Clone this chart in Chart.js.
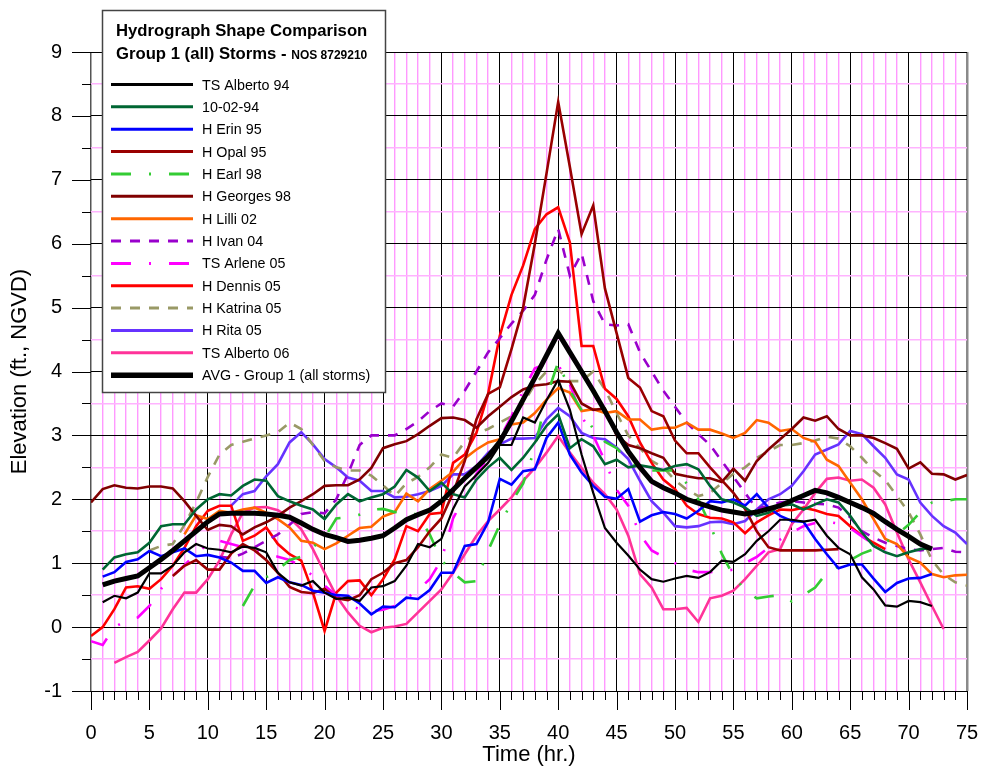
<!DOCTYPE html>
<html><head><meta charset="utf-8">
<script src="https://cdn.jsdelivr.net/npm/chart.js@4.4.1/dist/chart.umd.min.js"></script>
<style>html,body{margin:0;padding:0;background:#fff}canvas{display:block}</style>
</head><body>
<canvas id="c" width="982" height="769"></canvas>
<script>
const FONT = '"Liberation Sans", Arial, Helvetica, sans-serif';

// axis ranges / tick labels
const hoursMin = 0, hoursMax = 75;
const elevMin = -1, elevMax = 9;
const xTickLabels = [0,5,10,15,20,25,30,35,40,45,50,55,60,65,70,75];
const yTickLabels = [-1,0,1,2,3,4,5,6,7,8,9];

const titleLine1 = 'Hydrograph Shape Comparison';
const titleLine2 = 'Group 1 (all) Storms - ';
const titleLine2b = 'NOS 8729210';

// series names and first hour of each series
const seriesNames = ['TS Alberto 94','10-02-94','H Erin 95','H Opal 95','H Earl 98','H Georges 98','H Lilli 02','H Ivan 04','TS Arlene 05','H Dennis 05','H Katrina 05','H Rita 05','TS Alberto 06','AVG - Group 1 (all storms)'];
const seriesStart = [1,1,1,7,13,0,8,11,0,0,5,12,2,1];

// hourly elevations (ft., NGVD)
const alberto94 = [0.39,0.49,0.45,0.54,0.84,0.84,0.96,1.17,1.30,1.23,
 1.21,1.17,1.26,1.24,1.17,0.85,0.70,0.65,0.72,0.54,
 0.44,0.46,0.41,0.62,0.64,0.72,0.96,1.30,1.25,1.38,
 1.85,2.20,2.38,2.57,2.85,2.85,3.28,3.20,3.55,3.87,
 3.40,2.70,2.10,1.55,1.32,1.12,0.90,0.75,0.71,0.76,
 0.80,0.77,0.86,1.04,1.02,1.14,1.35,1.50,1.68,1.68,
 1.65,1.68,1.43,1.24,1.14,0.78,0.59,0.34,0.32,0.41,
 0.39,0.33];
const oct94 = [0.90,1.09,1.14,1.17,1.32,1.58,1.61,1.61,1.84,2.00,
 2.08,2.06,2.21,2.31,2.29,2.05,1.97,1.90,1.84,1.69,
 1.92,2.08,1.97,2.03,2.08,2.20,2.46,2.34,2.13,2.26,
 2.08,2.03,2.31,2.50,2.65,2.46,2.65,2.89,3.15,3.33,
 2.80,2.94,2.83,2.55,2.62,2.50,2.53,2.50,2.46,2.52,
 2.55,2.47,2.21,2.00,1.95,1.87,1.74,1.79,1.90,1.92,
 1.84,1.92,2.00,1.95,1.74,1.48,1.27,1.17,1.11,1.17,
 1.22,1.24];
const erin95 = [0.79,0.86,1.02,1.06,1.19,1.11,1.17,1.23,1.11,1.13,
 1.09,1.01,0.88,0.88,0.69,0.78,0.70,0.66,0.57,0.54,
 0.50,0.49,0.37,0.20,0.32,0.31,0.46,0.44,0.58,0.85,
 0.85,1.27,1.30,1.64,2.32,2.23,2.44,2.47,2.96,3.20,
 2.70,2.42,2.21,2.04,2.01,2.16,1.65,1.75,1.80,1.77,
 1.70,1.82,1.97,1.95,2.00,1.90,2.08,1.87,1.74,1.66,
 1.65,1.38,1.14,0.92,0.98,0.98,0.76,0.55,0.69,0.76,
 0.77,0.83];
const opal95 = [0.80,0.96,1.05,0.90,0.90,1.15,1.30,1.20,1.05,0.85,
 0.63,0.55,0.53,0.60,0.45,0.42,0.50,0.75,0.85,1.00,
 1.05,1.25,1.50,1.70,2.10,2.60,3.25,3.65,3.75,4.35,
 5.00,6.00,7.10,8.22,7.20,6.15,6.60,5.30,4.60,3.90,
 3.75,3.38,3.30,2.92,2.72,2.72,2.50,2.30,2.10,1.85,
 1.50,1.25,1.20,1.20,1.20,1.20,1.21,1.22];
const earl98 = [0.33,0.65,0.78,0.90,1.05,1.10,1.25,1.40,1.70,1.72,
 1.76,1.84,1.85,1.80,1.82,1.75,1.45,1.05,0.85,0.70,
 0.72,1.20,1.60,1.95,2.25,2.80,3.60,4.15,3.70,3.40,
 3.10,2.90,2.80,2.60,2.50,2.45,2.45,2.45,2.25,2.00,
 1.60,1.15,0.80,0.58,0.45,0.48,0.50,0.40,0.50,0.62,
 0.85,0.95,1.05,1.15,1.22,1.32,1.45,1.60,1.80,1.95,
 1.97,2.00,2.00];
const georges98 = [1.95,2.16,2.22,2.18,2.17,2.20,2.20,2.17,1.97,1.74,
 1.52,1.60,1.58,1.45,1.56,1.64,1.74,1.87,1.97,2.08,
 2.21,2.22,2.22,2.31,2.49,2.80,2.86,2.91,3.02,3.15,
 3.27,3.28,3.24,3.12,3.30,3.45,3.60,3.72,3.78,3.80,
 3.85,3.84,3.50,3.40,3.42,3.00,2.85,2.80,2.72,2.65,
 2.40,2.36,2.33,2.33,2.27,2.48,2.29,2.60,2.78,2.94,
 3.10,3.28,3.23,3.30,3.10,3.00,3.00,2.96,2.88,2.79,
 2.48,2.58,2.40,2.39,2.31,2.38];
const lilli02 = [1.45,1.75,1.69,1.82,1.79,1.84,1.87,1.79,1.69,1.56,
 1.35,1.32,1.22,1.31,1.43,1.55,1.57,1.73,1.80,2.09,
 1.97,2.16,2.29,2.43,2.64,2.78,2.89,2.94,3.17,3.20,
 3.35,3.56,3.74,3.67,3.38,3.41,3.35,3.38,3.25,3.25,
 3.09,3.12,3.12,3.20,3.09,3.09,3.03,2.96,3.04,3.24,
 3.20,3.07,3.10,2.96,2.90,2.62,2.52,2.26,2.00,1.69,
 1.38,1.30,1.09,1.01,0.83,0.78,0.81,0.82];
const ivan04 = [1.10,1.08,1.15,1.25,1.35,1.45,1.60,1.77,1.80,1.78,
 2.00,2.40,2.85,3.00,3.00,3.00,3.10,3.22,3.38,3.50,
 3.45,3.70,4.00,4.30,4.52,4.75,4.95,5.20,5.75,6.23,
 5.50,5.85,5.10,4.74,4.72,4.74,4.30,4.00,3.70,3.45,
 3.20,3.02,2.85,2.60,2.35,2.10,1.85,1.90,1.95,1.97,
 1.95,1.93,1.92,1.87,1.72,1.50,1.40,1.32,1.27,1.22,
 1.20,1.22,1.24,1.18,1.17];
const arlene05 = [-0.22,-0.28,0.00,0.10,0.15,0.33,0.60,0.80,0.97,1.15,
 1.30,1.35,1.30,1.25,1.20,1.15,1.10,1.05,0.95,0.80,
 0.65,0.50,0.35,0.28,0.25,0.27,0.33,0.45,0.58,0.75,
 1.05,1.70,2.05,2.40,2.65,2.95,3.30,3.70,4.05,4.12,
 4.10,3.80,3.30,3.00,2.60,2.15,1.90,1.45,1.20,1.10,
 1.00,0.90,0.86,0.86,0.87,0.90,1.00,1.10,1.24,1.37,
 1.48,1.58,1.63,1.65,1.62,1.55,1.42,1.30,1.17];
const dennis05 = [-0.14,0.00,0.28,0.62,0.64,0.60,0.75,0.96,1.24,1.58,
 1.82,1.90,1.90,1.35,1.43,1.56,1.30,1.14,1.04,0.54,
 -0.06,0.54,0.72,0.73,0.50,0.75,1.06,1.58,1.50,1.77,
 1.79,2.57,2.70,3.04,3.65,4.56,5.20,5.66,6.23,6.46,
 6.57,6.02,4.40,4.40,3.73,3.57,3.30,2.89,2.57,2.31,
 2.16,1.90,1.77,1.71,1.70,1.64,1.47,1.64,1.75,1.84,
 1.83,1.87,1.83,1.77,1.74,1.58,1.43,1.32,1.22];
const katrina05 = [1.20,1.27,1.30,1.60,1.95,2.35,2.70,2.85,2.90,2.95,
 3.00,3.05,3.20,3.10,2.85,2.60,2.50,2.45,2.45,2.37,
 2.22,2.05,2.25,2.35,2.50,2.70,2.65,2.90,3.03,3.10,
 3.20,3.30,3.50,3.80,4.00,4.03,3.85,3.85,4.00,3.72,
 3.35,3.00,2.80,2.60,2.50,2.30,2.15,2.05,2.10,2.25,
 2.40,2.50,2.65,2.75,2.85,2.85,2.88,2.92,2.98,2.95,
 2.83,2.65,2.45,2.30,2.05,1.80,1.45,1.05,0.82,0.70,
 0.65];
const rita05 = [1.90,2.08,2.13,2.36,2.55,2.89,3.05,2.86,2.63,2.50,
 2.34,2.29,2.13,2.13,2.03,2.04,2.08,2.13,2.21,2.39,
 2.39,2.52,2.73,2.86,2.95,2.95,2.96,3.25,3.43,3.30,
 3.04,2.96,2.94,2.81,2.63,2.29,1.97,1.79,1.58,1.56,
 1.58,1.64,1.65,1.61,1.66,1.84,2.00,2.08,2.21,2.44,
 2.70,2.78,2.86,3.07,3.02,2.83,2.65,2.39,2.31,1.95,
 1.74,1.58,1.48,1.30];
const alberto06 = [-0.56,-0.47,-0.39,-0.21,-0.02,0.28,0.54,0.54,0.75,1.04,
 1.45,1.79,1.87,1.88,1.83,1.71,1.53,1.22,0.85,0.49,
 0.23,0.02,-0.08,-0.01,0.01,0.05,0.23,0.41,0.59,0.85,
 1.14,1.43,1.66,1.84,2.03,2.29,2.49,2.73,2.99,2.73,
 2.49,2.26,2.08,1.84,1.43,0.83,0.62,0.28,0.28,0.30,
 0.08,0.45,0.49,0.57,0.75,0.96,1.17,1.22,1.61,1.84,
 2.10,2.32,2.34,2.29,2.31,2.18,1.92,1.48,1.06,0.70,
 0.33,-0.03];
const avgGroup1 = [0.66,0.72,0.76,0.80,0.93,1.06,1.20,1.35,1.50,1.65,
 1.77,1.78,1.78,1.78,1.77,1.75,1.72,1.63,1.53,1.45,
 1.40,1.34,1.36,1.39,1.43,1.55,1.68,1.76,1.83,1.97,
 2.15,2.33,2.50,2.67,2.90,3.22,3.56,3.90,4.25,4.60,
 4.30,4.00,3.70,3.38,3.05,2.75,2.50,2.28,2.18,2.10,
 2.00,1.94,1.88,1.83,1.80,1.77,1.80,1.85,1.90,1.98,
 2.06,2.14,2.10,2.03,1.95,1.87,1.78,1.65,1.53,1.42,
 1.30,1.22];

const seriesValues = [alberto94, oct94, erin95, opal95, earl98, georges98, lilli02, ivan04, arlene05, dennis05, katrina05, rita05, alberto06, avgGroup1];

// styles
const seriesColors = ['#000000','#006633','#0000ff','#990000','#33cc33','#800000','#ff6600','#9900cc','#ff00ff','#ff0000','#999966','#6633ff','#ff3399','#000000'];
const seriesWidths = [2.2,2.6,2.6,2.6,2.6,2.6,2.6,2.6,2.6,2.6,2.6,2.6,2.6,5];
const dashDot = [20,18,2,18];
const dashed = [10,9];
const seriesDashes = [[],[],[],[],dashDot,[],[],dashed,dashDot,[],dashed,[],[],[]];

const datasets = seriesNames.map((name, i) => ({
  label: name,
  data: seriesValues[i].map((v, k) => ({x: seriesStart[i] + k, y: v})),
  borderColor: seriesColors[i],
  backgroundColor: seriesColors[i],
  borderWidth: seriesWidths[i],
  borderDash: seriesDashes[i],
  pointRadius: 0,
  pointHoverRadius: 0,
  fill: false,
  tension: 0,
  order: i === seriesNames.length - 1 ? -1 : i
}));

const tickPlugin = {
  id: 'axisTicks',
  afterDraw(chart) {
    const {ctx, chartArea: a, scales: {x, y}} = chart;
    ctx.save();
    ctx.strokeStyle = '#000';
    ctx.lineWidth = 1;
    for (let h = hoursMin; h <= hoursMax; h++) {
      const px = Math.round(x.getPixelForValue(h)) + 0.5;
      const len = xTickLabels.includes(h) ? 19 : 9;
      ctx.beginPath(); ctx.moveTo(px, a.bottom); ctx.lineTo(px, a.bottom + len); ctx.stroke();
    }
    for (let k = 0; k <= (elevMax - elevMin) * 2; k++) {
      const v = elevMin + k / 2;
      const py = Math.round(y.getPixelForValue(v)) + 0.5;
      const len = yTickLabels.includes(v) ? 19 : 9;
      ctx.beginPath(); ctx.moveTo(a.left - len, py); ctx.lineTo(a.left, py); ctx.stroke();
    }
    ctx.restore();
  }
};

const legendPlugin = {
  id: 'boxLegend',
  afterDraw(chart) {
    const ctx = chart.ctx;
    ctx.save();
    const bx = 102, by = 10, bw = 283, bh = 382;
    ctx.fillStyle = '#fff';
    ctx.fillRect(bx, by, bw, bh);
    ctx.strokeStyle = '#444';
    ctx.lineWidth = 1.5;
    ctx.strokeRect(bx + 0.5, by + 0.5, bw, bh);
    ctx.fillStyle = '#000';
    ctx.textAlign = 'left';
    ctx.textBaseline = 'alphabetic';
    ctx.font = 'bold 16.7px ' + FONT;
    ctx.fillText(titleLine1, 116, 36);
    ctx.fillText(titleLine2, 116, 59);
    const w = ctx.measureText(titleLine2).width;
    ctx.font = 'bold 12px ' + FONT;
    ctx.fillText(titleLine2b, 116 + w, 59);
    ctx.font = '14.3px ' + FONT;
    chart.data.datasets.forEach((ds, i) => {
      const yy = 84.5 + i * 22.36;
      ctx.save();
      ctx.strokeStyle = ds.borderColor;
      ctx.lineWidth = ds.borderWidth >= 4 ? 5.5 : 3;
      ctx.setLineDash(ds.borderDash || []);
      ctx.beginPath(); ctx.moveTo(111, yy); ctx.lineTo(193, yy); ctx.stroke();
      ctx.restore();
      ctx.fillText(ds.label, 202, yy + 5);
    });
    ctx.restore();
  }
};

new Chart(document.getElementById('c'), {
  type: 'line',
  data: {datasets},
  options: {
    responsive: false,
    devicePixelRatio: 1,
    animation: false,
    events: [],
    layout: {padding: {top: 52, right: 15, left: 0, bottom: 0}},
    plugins: {legend: {display: false}, tooltip: {enabled: false}},
    scales: {
      x: {
        type: 'linear', min: hoursMin, max: hoursMax,
        afterFit: s => { s.height = 78; },
        border: {display: false},
        grid: {
          drawTicks: true, tickLength: 30, tickColor: 'rgba(0,0,0,0)',
          color: c => c.tick.value === hoursMax ? '#8a8a8a' : (c.tick.value % 5 === 0 ? (c.tick.value === 0 ? '#555' : '#000') : '#ff99ff'),
          lineWidth: c => c.tick.value === hoursMax ? 2.5 : (c.tick.value === 0 ? 1.5 : (c.tick.value % 5 === 0 ? 1 : 1.4))
        },
        ticks: {
          stepSize: 1, autoSkip: false, maxRotation: 0, minRotation: 0,
          padding: 0, color: '#000', font: {family: FONT, size: 20},
          callback: v => xTickLabels.includes(v) ? String(v) : ''
        },
        title: {display: true, text: 'Time (hr.)', color: '#000', font: {family: FONT, size: 22}, padding: {top: 0, bottom: 1}}
      },
      y: {
        type: 'linear', min: elevMin, max: elevMax,
        afterFit: s => { s.width = 91; },
        border: {display: false},
        grid: {
          drawTicks: true, tickLength: 29, tickColor: 'rgba(0,0,0,0)',
          color: c => Number.isInteger(c.tick.value) ? '#000' : '#ffb3ff',
          lineWidth: c => Number.isInteger(c.tick.value) ? 1 : 1.6
        },
        ticks: {
          stepSize: 0.5, autoSkip: false,
          padding: 0, color: '#000', font: {family: FONT, size: 20},
          callback: v => yTickLabels.includes(v) ? String(v) : ''
        },
        title: {display: true, text: 'Elevation (ft., NGVD)', color: '#000', font: {family: FONT, size: 22}, padding: {top: 7, bottom: 0}}
      }
    }
  },
  plugins: [tickPlugin, legendPlugin]
});
</script>
</body></html>
